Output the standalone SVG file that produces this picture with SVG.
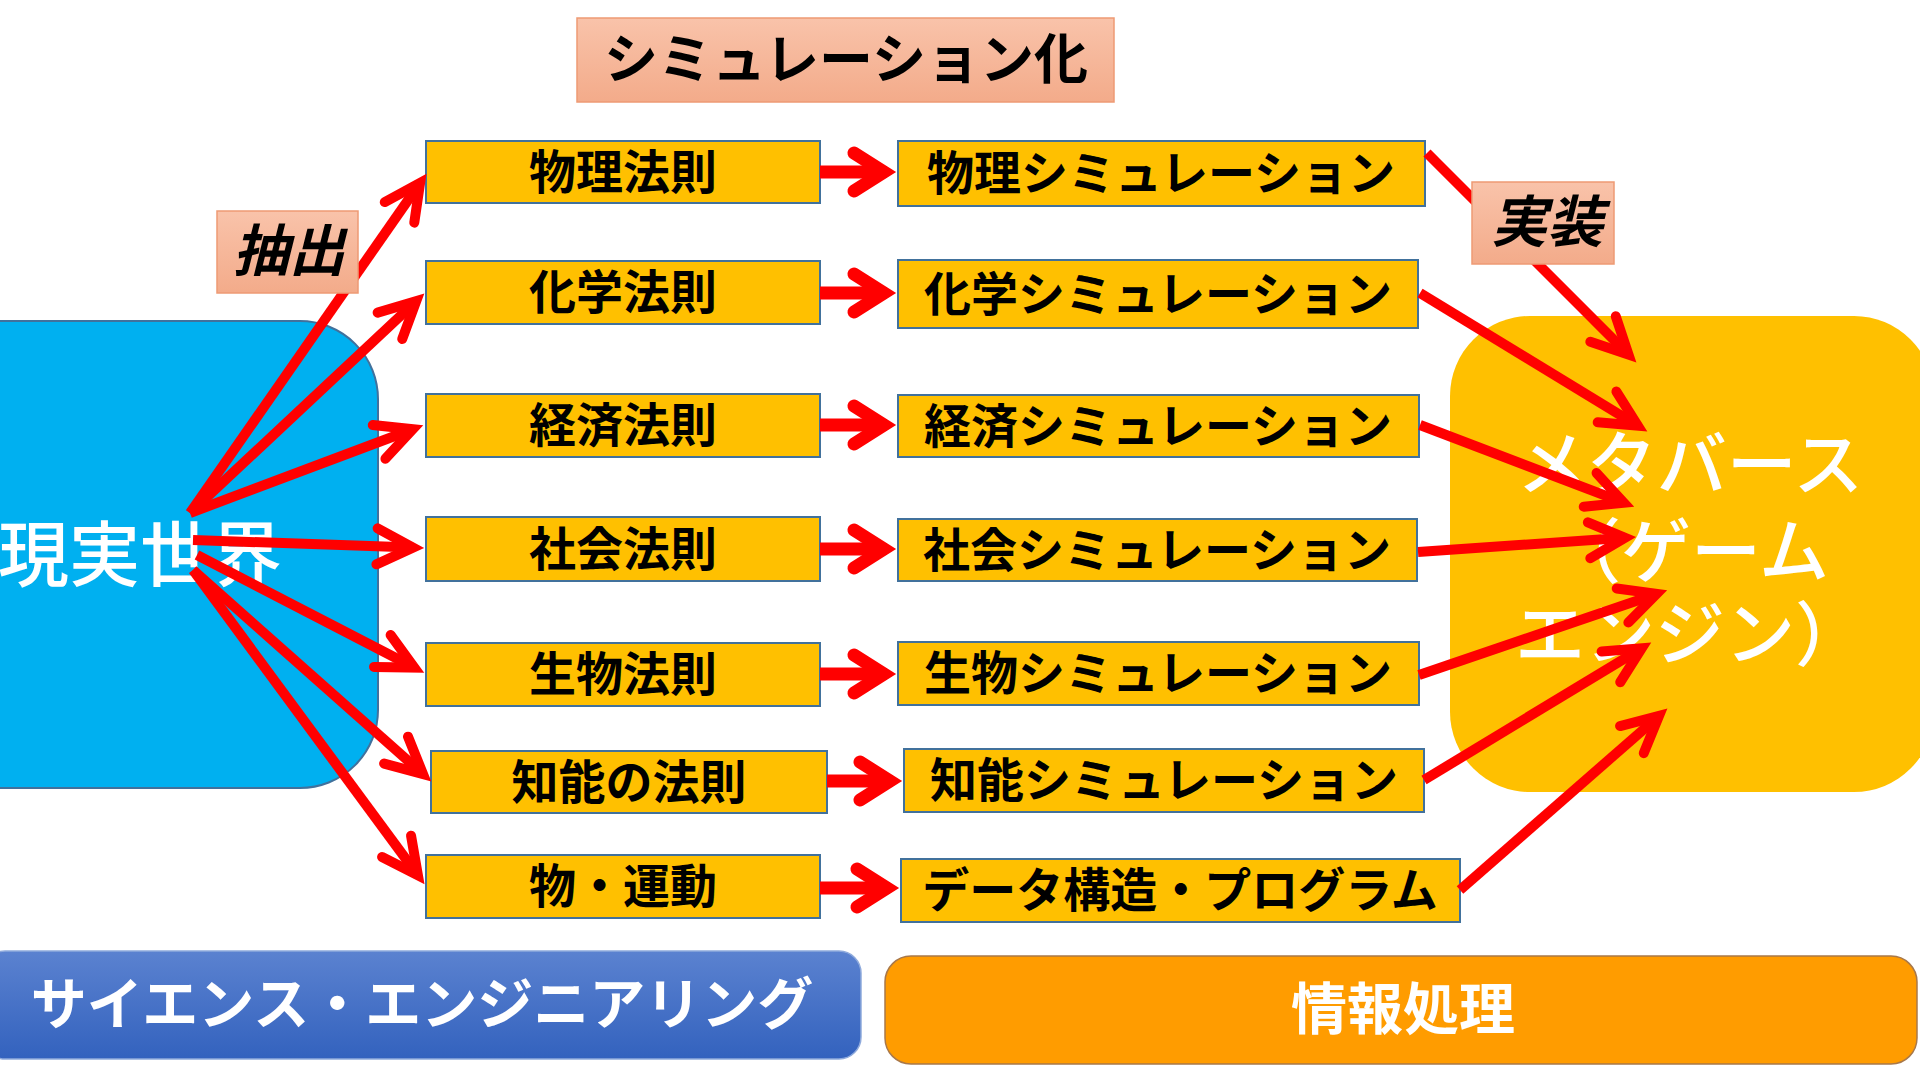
<svg xmlns="http://www.w3.org/2000/svg" width="1920" height="1080" viewBox="0 0 1920 1080">
<defs>
<style>
.law{fill:#FFC000;stroke:#41719C;stroke-width:2}
.lt{font-family:"Noto Sans CJK JP","Noto Sans",sans-serif;font-weight:700;font-size:47px;fill:#000;text-anchor:middle;dominant-baseline:central}
.lab{fill:url(#salmon);stroke:#EE9A74;stroke-width:1.5}
.labt{font-family:"Noto Sans CJK JP","Noto Sans",sans-serif;font-weight:700;font-size:56px;fill:#000;text-anchor:middle;dominant-baseline:central}
.big{font-family:"Noto Sans CJK JP","Noto Sans",sans-serif;font-weight:500;font-size:70px;fill:#FFF;text-anchor:middle;dominant-baseline:central}
.bar{font-family:"Noto Sans CJK JP","Noto Sans",sans-serif;font-weight:700;font-size:56px;fill:#FFF;text-anchor:middle;dominant-baseline:central}
.fan{stroke:#FF0000;stroke-width:10;fill:none;marker-end:url(#ah)}
.mid{stroke:#FF0000;stroke-width:13;fill:none;marker-end:url(#ahb)}
</style>
<linearGradient id="salmon" x1="0" y1="0" x2="0" y2="1">
<stop offset="0" stop-color="#F9C3AA"/>
<stop offset="1" stop-color="#F3AB8A"/>
</linearGradient>
<linearGradient id="blueg" x1="0" y1="0" x2="0" y2="1">
<stop offset="0" stop-color="#5B82D0"/>
<stop offset="1" stop-color="#3362BE"/>
</linearGradient>
<marker id="ah" markerUnits="userSpaceOnUse" markerWidth="70" markerHeight="70" viewBox="-55 -35 70 70" refX="0" refY="0" orient="auto" overflow="visible">
<path d="M-36,-18 L0,0 L-36,18" fill="none" stroke="#FF0000" stroke-width="10" stroke-linecap="round" stroke-linejoin="miter" stroke-miterlimit="10"/>
</marker>
<marker id="ahb" markerUnits="userSpaceOnUse" markerWidth="70" markerHeight="70" viewBox="-55 -35 70 70" refX="0" refY="0" orient="auto" overflow="visible">
<path d="M-30,-19 L0,0 L-30,19" fill="none" stroke="#FF0000" stroke-width="13" stroke-linecap="round" stroke-linejoin="miter" stroke-miterlimit="10"/>
</marker>
</defs>
<rect width="1920" height="1080" fill="#FFFFFF"/>

<g id="real-world">
<rect x="-100" y="321" width="478" height="467" rx="78" fill="#00B0F0" stroke="#41719C" stroke-width="2"/>
<text class="big" x="140" y="549" style="font-size:71px">現実世界</text>
</g>

<g id="metaverse">
<rect x="1450" y="316" width="484" height="476" rx="80" fill="#FFC000"/>
<text class="big" x="1690" y="459">メタバース</text>
<text class="big" x="1690" y="546">（ゲーム</text>
<text class="big" x="1690" y="629">エンジン）</text>
</g>

<g id="law-physics"><rect class="law" x="426" y="141" width="394" height="62"/><text class="lt" x="623" y="168">物理法則</text></g>
<g id="law-chemistry"><rect class="law" x="426" y="261" width="394" height="63"/><text class="lt" x="623" y="288">化学法則</text></g>
<g id="law-economy"><rect class="law" x="426" y="394" width="394" height="63"/><text class="lt" x="623" y="421">経済法則</text></g>
<g id="law-society"><rect class="law" x="426" y="517" width="394" height="64"/><text class="lt" x="623" y="545">社会法則</text></g>
<g id="law-biology"><rect class="law" x="426" y="643" width="394" height="63"/><text class="lt" x="623" y="670">生物法則</text></g>
<g id="law-intelligence"><rect class="law" x="431" y="751" width="396" height="62"/><text class="lt" x="629" y="778">知能の法則</text></g>
<g id="law-motion"><rect class="law" x="426" y="855" width="394" height="63"/><text class="lt" x="623" y="882">物・運動</text></g>

<g id="sim-physics"><rect class="law" x="898" y="141" width="527" height="65"/><text class="lt" x="1161" y="169">物理シミュレーション</text></g>
<g id="sim-chemistry"><rect class="law" x="898" y="260" width="520" height="68"/><text class="lt" x="1158" y="290">化学シミュレーション</text></g>
<g id="sim-economy"><rect class="law" x="898" y="395" width="521" height="62"/><text class="lt" x="1158" y="422">経済シミュレーション</text></g>
<g id="sim-society"><rect class="law" x="898" y="519" width="519" height="62"/><text class="lt" x="1157" y="546">社会シミュレーション</text></g>
<g id="sim-biology"><rect class="law" x="898" y="642" width="521" height="63"/><text class="lt" x="1158" y="669">生物シミュレーション</text></g>
<g id="sim-intelligence"><rect class="law" x="904" y="749" width="520" height="63"/><text class="lt" x="1164" y="776">知能シミュレーション</text></g>
<g id="sim-data"><rect class="law" x="901" y="859" width="559" height="63"/><text class="lt" x="1180" y="886">データ構造・プログラム</text></g>

<g id="connectors">
<line class="fan" x1="190" y1="513" x2="420.1" y2="182.8"/>
<line class="fan" x1="190" y1="513" x2="416.2" y2="301.2"/>
<line class="fan" x1="190" y1="513" x2="412.8" y2="429.2"/>
<line class="fan" x1="193" y1="540" x2="413" y2="547.6"/>
<line class="fan" x1="197" y1="555" x2="414.3" y2="667.5"/>
<line class="fan" x1="193" y1="570" x2="423" y2="774"/>
<line class="fan" x1="193" y1="570" x2="417.9" y2="875.3"/>

<line class="mid" x1="820" y1="172" x2="884" y2="172"/>
<line class="mid" x1="820" y1="293" x2="884" y2="293"/>
<line class="mid" x1="820" y1="425" x2="884" y2="425"/>
<line class="mid" x1="820" y1="549" x2="884" y2="549"/>
<line class="mid" x1="820" y1="674" x2="884" y2="674"/>
<line class="mid" x1="827" y1="781" x2="890" y2="781"/>
<line class="mid" x1="820" y1="888" x2="887" y2="888"/>

<line class="fan" x1="1427" y1="153" x2="1628.5" y2="354.5"/>
<line class="fan" x1="1420" y1="293" x2="1637.8" y2="425.7"/>
<line class="fan" x1="1420" y1="425" x2="1623.8" y2="502.7"/>
<line class="fan" x1="1418" y1="552" x2="1625" y2="537.8"/>
<line class="fan" x1="1419" y1="675" x2="1656.6" y2="593.9"/>
<line class="fan" x1="1424" y1="780" x2="1641.7" y2="648.2"/>
<line class="fan" x1="1460" y1="890" x2="1659" y2="715.9"/>
</g>

<g id="label-simulation"><rect class="lab" x="577" y="18" width="537" height="84"/><text class="labt" x="846" y="55" style="font-size:54px">シミュレーション化</text></g>
<g id="label-extract"><rect class="lab" x="217" y="211" width="141" height="82"/><text class="labt" x="289" y="246" font-style="italic">抽出</text></g>
<g id="label-implement"><rect class="lab" x="1472" y="182" width="142" height="82"/><text class="labt" x="1547" y="217" font-style="italic">実装</text></g>

<g id="bar-science">
<rect x="-17" y="951" width="878" height="108" rx="22" fill="url(#blueg)" stroke="#8FAADC" stroke-width="1.5"/>
<text class="bar" x="422" y="999">サイエンス・エンジニアリング</text>
</g>
<g id="bar-info">
<rect x="885" y="956" width="1032" height="108" rx="26" fill="#FF9C00" stroke="#A8784A" stroke-width="1.5"/>
<text class="bar" x="1403" y="1004">情報処理</text>
</g>
</svg>
